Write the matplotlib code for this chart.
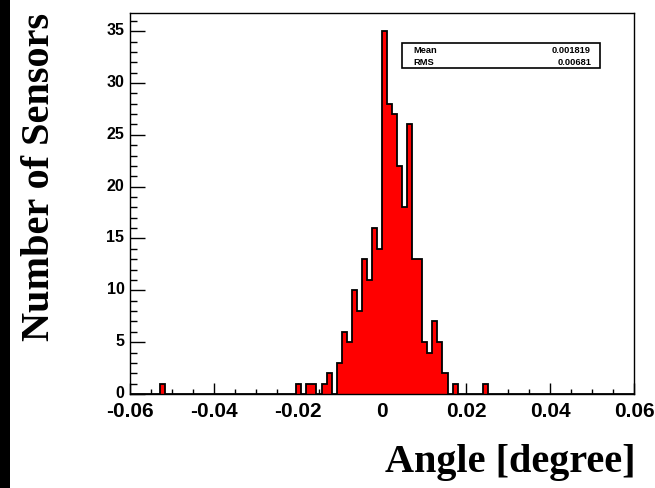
import numpy as np
import matplotlib
matplotlib.use("Agg")
import matplotlib.pyplot as plt
from matplotlib.patches import Rectangle
from matplotlib.ticker import MultipleLocator
from matplotlib.transforms import ScaledTranslation

plt.rcParams["axes.unicode_minus"] = False

# --- data: 100 bins from -0.06 to 0.06 ---
x_min, x_max, n_bins = -0.06, 0.06, 100
counts = [
    0, 0, 0, 0, 0, 0, 1, 0, 0, 0,
    0, 0, 0, 0, 0, 0, 0, 0, 0, 0,
    0, 0, 0, 0, 0, 0, 0, 0, 0, 0,
    0, 0, 0, 1, 0, 1, 1, 0, 1, 2,
    0, 3, 6, 5, 10, 8, 13, 11, 16, 14,
    35, 28, 27, 22, 18, 26, 13, 13, 5, 4,
    7, 5, 2, 0, 1, 0, 0, 0, 0, 0,
    1, 0, 0, 0, 0, 0, 0, 0, 0, 0,
    0, 0, 0, 0, 0, 0, 0, 0, 0, 0,
    0, 0, 0, 0, 0, 0, 0, 0, 0, 0,
]
stat_names = ["Mean", "RMS"]
stat_values = ["0.001819", "0.00681"]
x_ticks = [-0.06, -0.04, -0.02, 0, 0.02, 0.04, 0.06]
x_tick_labels = ["-0.06", "-0.04", "-0.02", "0", "0.02", "0.04", "0.06"]

edges = np.linspace(x_min, x_max, n_bins + 1)

fig = plt.figure(figsize=(6.55, 4.89), dpi=100)
ax = fig.add_axes([130 / 655, 1 - 395 / 489, 504 / 655, 381 / 489])

# 塗りつぶしと輪郭
ax.stairs(counts, edges, fill=True, color="#ff0000", zorder=2)
ax.stairs(counts, edges, color="black", linewidth=1.3, baseline=0, zorder=3)

ax.set_xlim(x_min, x_max)
ax.set_ylim(0, max(counts) * 1.05)

ax.set_xticks(x_ticks)
ax.set_xticklabels(x_tick_labels)
ax.xaxis.set_minor_locator(MultipleLocator(0.005))
ax.yaxis.set_major_locator(MultipleLocator(5))
ax.yaxis.set_minor_locator(MultipleLocator(1))

ax.tick_params(axis="x", which="major", direction="in", length=8, width=1, pad=5,
               labelsize=15, top=False)
ax.tick_params(axis="x", which="minor", direction="in", length=3.8, width=1, top=False)
ax.tick_params(axis="y", which="major", direction="in", length=11, width=1, pad=4,
               labelsize=11.5, right=False)
ax.tick_params(axis="y", which="minor", direction="in", length=5, width=1, right=False)
for lab in ax.get_xticklabels() + ax.get_yticklabels():
    lab.set_fontweight("bold")
    lab.set_fontfamily("Liberation Sans")
# y ラベルを少し上へ
shift = ScaledTranslation(0, 3 / 100, fig.dpi_scale_trans)
for lab in ax.get_yticklabels():
    lab.set_transform(lab.get_transform() + shift)
for sp in ax.spines.values():
    sp.set_linewidth(1.0)
    sp.set_zorder(4)

# 統計ボックス
box_l, box_r, box_t, box_b = 402, 600, 44, 69
fig.patches.append(Rectangle((box_l / 655, 1 - box_b / 489),
                             (box_r - box_l) / 655, (box_b - box_t) / 489,
                             transform=fig.transFigure, facecolor="white",
                             edgecolor="black", linewidth=1.2, zorder=5))
for i, (name, val) in enumerate(zip(stat_names, stat_values)):
    yy = 1 - (50.5 + 12 * i) / 489
    fig.text(413 / 655, yy, name, fontsize=6.7, fontweight="bold",
             family="Liberation Sans", ha="left", va="center", zorder=6)
    fig.text(591 / 655, yy, val, fontsize=6.7, fontweight="bold",
             family="Liberation Sans", ha="right", va="center", zorder=6)

# 軸タイトル
fig.text(40 / 655, 1 - 177 / 489, "Number of Sensors", rotation=90,
         fontsize=29, fontweight="bold", family="Liberation Serif",
         ha="center", va="center")
fig.text(636 / 655, 1 - 472 / 489, "Angle [degree]", fontsize=29,
         fontweight="bold", family="Liberation Serif", ha="right", va="baseline")

# 左端の黒い帯
fig.patches.append(Rectangle((0, 0), 10 / 655, 1, transform=fig.transFigure,
                             facecolor="black", edgecolor="none"))

fig.savefig("out.png", dpi=100)
